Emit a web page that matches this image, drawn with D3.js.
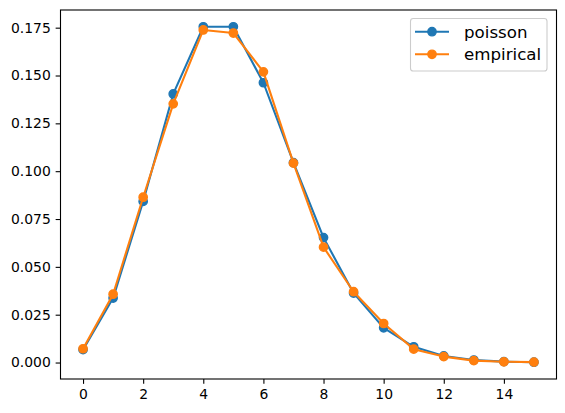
<!DOCTYPE html>
<html><head><meta charset="utf-8">
<script src="https://cdn.jsdelivr.net/npm/d3@7"></script>
<style>body{margin:0;background:#fff}svg{display:block}text{font-family:"DejaVu Sans",sans-serif}</style>
</head><body>
<svg id="c" width="565" height="413"></svg>
<script>
const ks = [0,1,2,3,4,5,6,7,8,9,10,11,12,13,14,15];
const poisson = [0.00674,0.03369,0.08422,0.14037,0.17547,0.17547,0.14622,0.10444,0.06528,0.03627,0.01813,0.00824,0.00343,0.00132,0.00047,0.00016];
const empirical = [0.0072,0.0357,0.0864,0.1352,0.1738,0.1722,0.1519,0.1042,0.0603,0.0370,0.0204,0.0070,0.0031,0.0010,0.0004,0.0002];
const xTicks = [0,2,4,6,8,10,12,14];
const yTicks = [0,0.025,0.05,0.075,0.1,0.125,0.15,0.175];
const seriesNames = ["poisson","empirical"];
const colors = ["#1f77b4","#ff7f0e"];

const svg = d3.select("#c");
const L=60.5,R=556.5,T=10,B=379;
const x = d3.scaleLinear().domain([-0.75,15.75]).range([L,R]);
const yr=[0.00016,0.17547], pad=(yr[1]-yr[0])*0.05;
const y = d3.scaleLinear().domain([yr[0]-pad,yr[1]+pad]).range([B,T]);

const fs = "13.9px";
const xa = svg.append("g").attr("transform",`translate(0,${B})`)
  .call(d3.axisBottom(x).tickValues(xTicks).tickFormat(d3.format("d")).tickSize(4.86).tickPadding(4.86));
const ya = svg.append("g").attr("transform",`translate(${L},0)`)
  .call(d3.axisLeft(y).tickValues(yTicks).tickFormat(d3.format(".3f")).tickSize(4.86).tickPadding(4.86));
[xa,ya].forEach(a=>{a.select(".domain").remove();a.selectAll("line").attr("stroke","#000").attr("stroke-width",1.1);
  a.selectAll("text").attr("font-size",fs).attr("fill","#000").attr("font-family","DejaVu Sans");});

const data=[poisson,empirical];
data.forEach((vals,i)=>{
  const g=svg.append("g");
  g.append("path").datum(vals).attr("fill","none").attr("stroke",colors[i]).attr("stroke-width",2.08)
    .attr("stroke-linejoin","round").attr("d",d3.line().x((d,j)=>x(ks[j])).y(d=>y(d)));
  g.selectAll("circle").data(vals).join("circle").attr("cx",(d,j)=>x(ks[j])).attr("cy",d=>y(d)).attr("r",4.17)
    .attr("fill",colors[i]).attr("stroke",colors[i]).attr("stroke-width",1.39);
});

svg.append("rect").attr("x",L).attr("y",T).attr("width",R-L).attr("height",B-T).attr("fill","none").attr("stroke","#000").attr("stroke-width",1.1);

const lg=svg.append("g");
lg.append("rect").attr("x",410.5).attr("y",18.5).attr("width",136.5).attr("height",52.5).attr("rx",2.8)
  .attr("fill","#fff").attr("fill-opacity",0.8).attr("stroke","#cccccc").attr("stroke-width",1.1);
seriesNames.forEach((n,i)=>{
  const yy=31.7+i*22.6;
  lg.append("line").attr("x1",415).attr("x2",449).attr("y1",yy).attr("y2",yy).attr("stroke",colors[i]).attr("stroke-width",2.08);
  lg.append("circle").attr("cx",432).attr("cy",yy).attr("r",4.17).attr("fill",colors[i]).attr("stroke",colors[i]).attr("stroke-width",1.39);
  lg.append("text").attr("x",464).attr("y",yy).attr("dy","0.35em").attr("font-size","16.67px").attr("fill","#000").text(n);
});
</script>
</body></html>
